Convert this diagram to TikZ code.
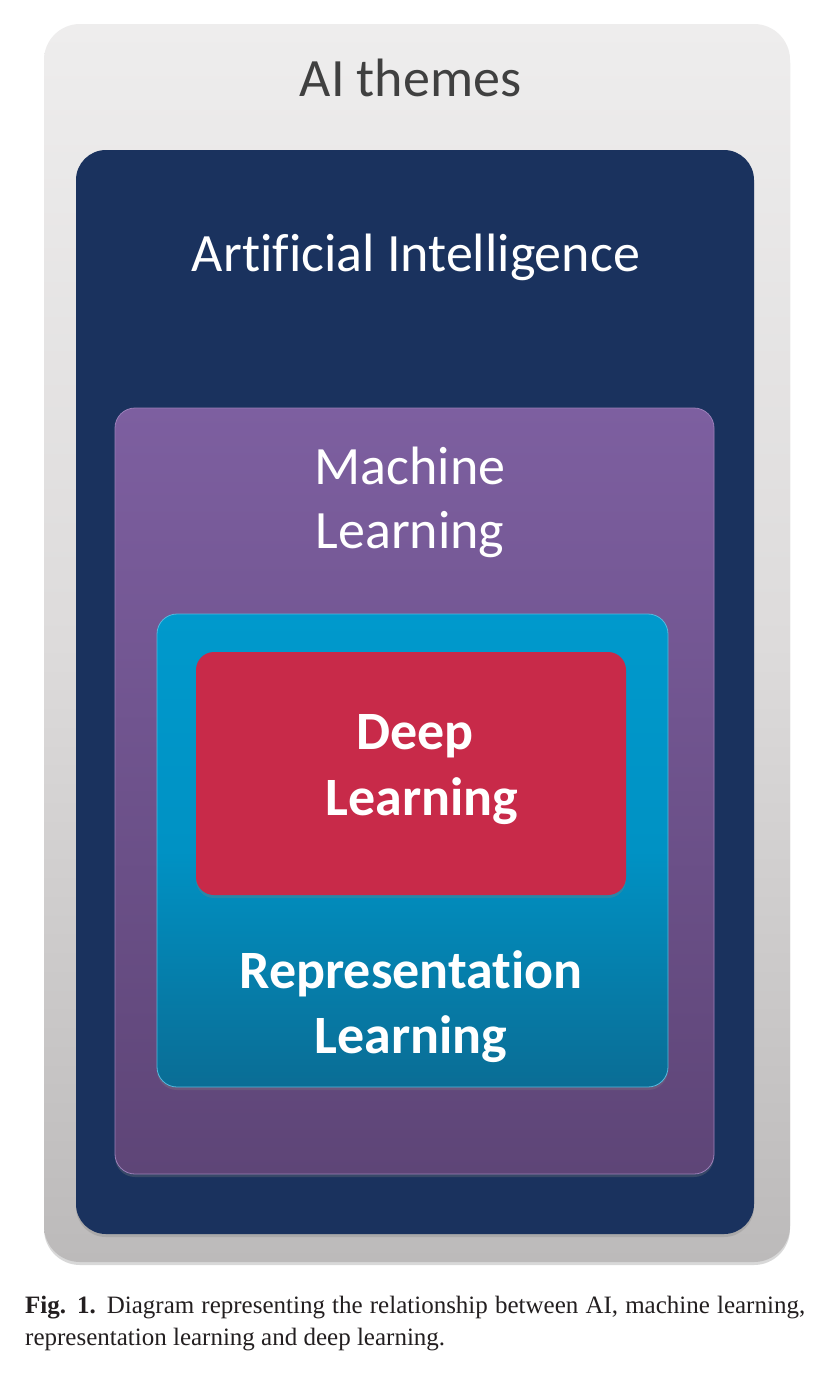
\documentclass[tikz,border=0pt]{standalone}
\usepackage{fontspec}
\setmainfont{Carlito}[Ligatures={NoCommon,NoContextual}]
\newfontfamily\capfont{Liberation Serif}
\usetikzlibrary{shadows}
\definecolor{greyT}{HTML}{EEEDED}
\definecolor{greyM}{HTML}{DDDBDB}
\definecolor{greyB}{HTML}{BCBABA}
\definecolor{navy}{HTML}{1A325E}
\definecolor{purT}{HTML}{7D5FA0}
\definecolor{purB}{HTML}{5E4577}
\definecolor{purEdge}{HTML}{9A7FB8}
\definecolor{bluT}{HTML}{0099CC}
\definecolor{bluM}{HTML}{0092C4}
\definecolor{bluB}{HTML}{0A6D95}
\definecolor{bluEdge}{HTML}{55B8DD}
\definecolor{redbox}{HTML}{C82A49}
\definecolor{titlegrey}{HTML}{404040}
\definecolor{captext}{HTML}{231F20}
\begin{document}
\begin{tikzpicture}[x=1pt,y=-1pt,
  panel/.style={inner sep=0pt, outer sep=0pt, anchor=north west,
    drop shadow={shadow xshift=0pt, shadow yshift=-3pt, opacity=0.3}},
  lbl/.style={anchor=base, inner sep=0pt, text=white,
    font=\fontsize{54}{65}\selectfont},
  lblb/.style={lbl, font=\fontsize{54}{65}\selectfont\bfseries},
  captxt/.style={anchor=base west, inner sep=0pt, text=captext,
    font=\capfont\fontsize{25}{32}\selectfont}
]
\fill[white] (0,0) rectangle (822,1374);
\useasboundingbox (0,0) rectangle (822,1374);

\node[panel, minimum width=746pt, minimum height=1238pt, rounded corners=36pt,
  top color=greyT, bottom color=greyB, middle color=greyM] (themes) at (44,24) {};
\node[panel, minimum width=678pt, minimum height=1084pt, rounded corners=30pt,
  fill=navy] (ai) at (76,150) {};
\node[panel, minimum width=599pt, minimum height=766pt, rounded corners=20pt,
  top color=purT, bottom color=purB, draw=purEdge, line width=0.8pt] (ml) at (115,408) {};
\node[panel, minimum width=511pt, minimum height=473pt, rounded corners=20pt,
  top color=bluT, bottom color=bluB, middle color=bluM, draw=bluEdge, line width=0.8pt] (rl) at (157,614) {};
\node[panel, minimum width=430pt, minimum height=243pt, rounded corners=18pt,
  fill=redbox] (dl) at (196,652) {};

\node[lbl, text=titlegrey] (tthemes) at (410.5,96) {AI themes};
\node[lbl] (tai) at (416,271) {Artificial Intelligence};
\node[lbl] (tml1) at (410,484) {Machine};
\node[lbl] (tml2) at (410,548) {Learning};
\node[lblb] (tdl1) at (415,749) {Deep};
\node[lblb] (tdl2) at (422,815) {Learning};
\node[lblb] (trl1) at (411,988) {Representation};
\node[lblb] (trl2) at (411,1053) {Learning};

\node[captxt] (cap1) at (25,1313) {\makebox[780pt][s]{\textbf{Fig. 1.} Diagram representing the relationship between AI, machine learning,}};
\node[captxt] (cap2) at (25,1345) {representation learning and deep learning.};
\end{tikzpicture}
\end{document}
